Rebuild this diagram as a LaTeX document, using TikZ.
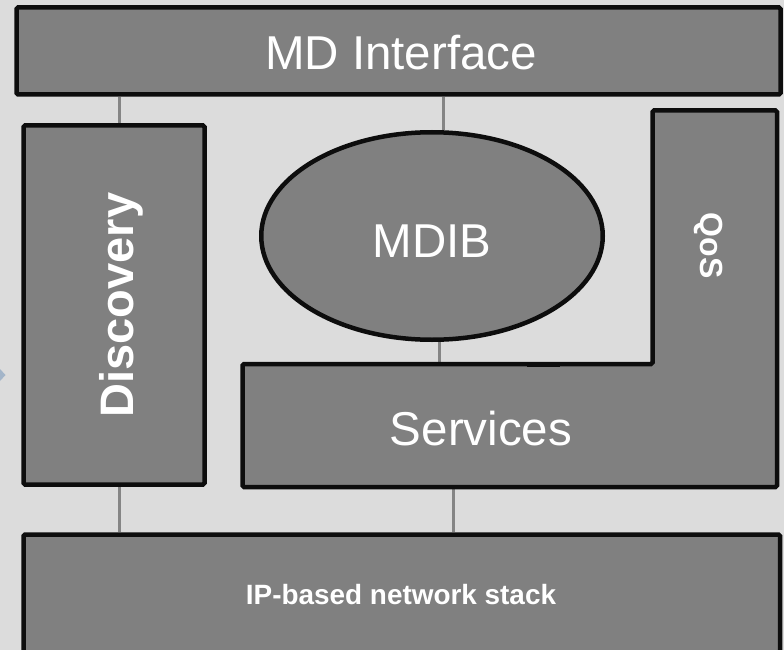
\documentclass[tikz,border=0pt]{standalone}
\usepackage{fontspec}
\setmainfont{Liberation Sans}
\usetikzlibrary{shapes.geometric,backgrounds}
\definecolor{bgpanel}{HTML}{DCDCDC}
\definecolor{blockfill}{HTML}{808080}
\definecolor{blockline}{HTML}{0D0D0D}
\definecolor{linkgray}{HTML}{858585}
\definecolor{marker}{HTML}{A3B5C9}

\begin{document}
\begin{tikzpicture}[x=1pt,y=-1pt,
  block/.style={draw=blockline, fill=blockfill, line width=4.5pt,
    rounded corners=1.5pt, inner sep=0pt},
  wtext/.style={text=white, inner sep=0pt},
  bigfont/.style={font=\fontsize{47.5}{50}\selectfont},
  link/.style={draw=linkgray, line width=3pt}]

\useasboundingbox (0,0) rectangle (784,650);

% layer blocks
\node[block, minimum width=764pt, minimum height=87pt] (md) at (398.5,51) {};
\node[block, minimum width=181pt, minimum height=359pt] (disc) at (114,305) {};
\node[block, ellipse, minimum width=341.5pt, minimum height=207.5pt] (mdib) at (432,236) {};
\node[block, minimum width=756.5pt, minimum height=130.5pt] (ip) at (401.75,599.75) {};

% services with the QoS column on its right
\draw[block] (242.5,364) -- (652.5,364) -- (652.5,110.5) -- (777,110.5)
  -- (777,487) -- (242.5,487) -- cycle;
% small seam where the two parts meet
\draw[blockline, line width=2pt] (527,366) -- (560,366);
\node[inner sep=0pt, minimum width=534.5pt, minimum height=123pt] (serv) at (509.75,425.5) {};
\node[inner sep=0pt, minimum width=124.5pt, minimum height=253.5pt] (qos) at (714.75,237.25) {};

% captions
\node[wtext, bigfont, anchor=base] (mdlabel) at (401,70) {MD Interface};
\node[wtext, bigfont, anchor=base] (mdiblabel) at (432,257) {MDIB};
\node[wtext, bigfont, anchor=base] (servlabel) at (481,445) {Services};
\node[wtext, font=\fontsize{47}{50}\selectfont\bfseries, rotate=90, anchor=base] (disclabel) at (133,305) {Discovery};
\node[wtext, font=\fontsize{32}{36}\selectfont\bfseries, rotate=-90, anchor=base] (qoslabel) at (700,245.5) {QoS};
\node[wtext, font=\fontsize{27.9}{30}\selectfont\bfseries, anchor=base] (iplabel) at (401,604) {IP-based network stack};

% side marker
\fill[marker] (0,369) -- (5.5,375) -- (0,381) -- cycle;

\begin{pgfonlayer}{background}
  \fill[bgpanel] (0,0) rectangle (784,650);
  \draw[link] (119,0 |- disc.north) -- (119,0 |- md.south);
  \draw[link] (443,0 |- mdib.north) -- (443,0 |- md.south);
  \draw[link] (439,0 |- mdib.south) -- (439,0 |- serv.north);
  \draw[link] (119,0 |- disc.south) -- (119,0 |- ip.north);
  \draw[link] (453,0 |- serv.south) -- (453,0 |- ip.north);
\end{pgfonlayer}
\end{tikzpicture}
\end{document}
